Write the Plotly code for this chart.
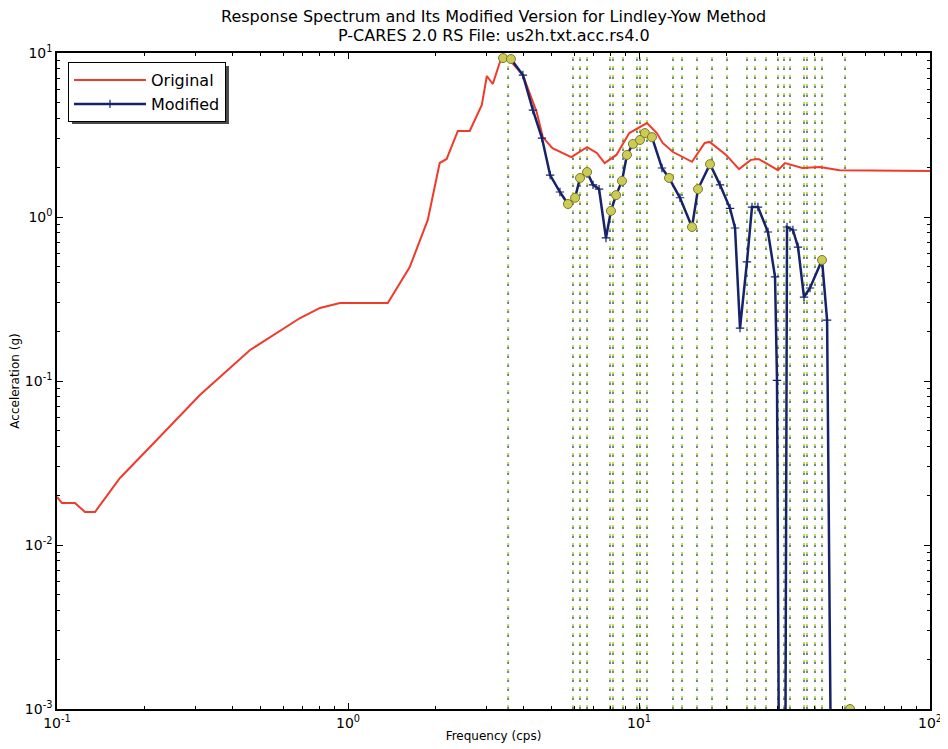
import plotly.graph_objects as go

# ---------------- data ----------------
orig_freq = [0.1, 0.104, 0.1153, 0.1248, 0.1351, 0.1405, 0.1646, 0.2087, 0.3098, 0.4607,
             0.6844, 0.8014, 0.9382, 1.3703, 1.63, 1.88, 2.066, 2.183, 2.385, 2.62,
             2.883, 3.0, 3.144, 3.327, 3.456, 3.594, 3.99, 4.45, 4.67, 5.04,
             5.85, 6.63, 7.16, 7.62, 8.36, 9.26, 10.65, 11.51, 12.06, 13.09,
             15.21, 16.82, 17.49, 19.92, 22.07, 24.22, 25.76, 30.04, 31.75, 36.4,
             41.9, 48.9, 57.0, 100.0]
orig_acc = [0.01963, 0.01803, 0.01803, 0.0159, 0.0159, 0.01754, 0.02563, 0.03961, 0.08218, 0.1545,
            0.2422, 0.2788, 0.299, 0.299, 0.4955, 0.959, 2.134, 2.258, 3.347, 3.347,
            4.82, 7.24, 6.47, 8.81, 9.32, 9.06, 7.34, 4.37, 3.07, 2.63,
            2.32, 2.67, 2.46, 2.13, 2.39, 3.25, 3.74, 3.25, 2.83, 2.49,
            2.17, 2.83, 2.87, 2.39, 1.96, 2.23, 2.26, 1.93, 2.13, 1.99,
            2.02, 1.93, 1.93, 1.91]

mod_freq = [3.41, 3.63, 3.99, 4.32, 4.64, 4.95, 5.35, 5.70, 6.03, 6.27,
            6.63, 6.95, 7.29, 7.70, 8.01, 8.34, 8.74, 9.09, 9.53, 10.08,
            10.48, 11.08, 11.99, 12.68, 13.83, 15.21, 15.95, 17.54, 18.98, 20.55,
            21.38, 22.24, 23.50, 24.45, 25.63, 27.75, 29.34, 29.8, 30.4, 31.75,
            32.26, 33.8, 35.2, 36.9, 38.7, 42.55, 44.3, 46.0]
mod_acc = [9.32, 9.19, 7.34, 4.49, 3.03, 1.80, 1.42, 1.20, 1.31, 1.73,
           1.88, 1.57, 1.48, 0.745, 1.09, 1.36, 1.66, 2.39, 2.79, 2.95,
           3.25, 3.07, 1.99, 1.73, 1.31, 0.869, 1.48, 2.10, 1.57, 1.13,
           0.857, 0.210, 0.532, 1.15, 1.15, 0.810, 0.431, 0.101, 1e-4, 1e-4,
           0.869, 0.833, 0.656, 0.325, 0.369, 0.547, 0.235, 1e-4]

ctrl_freq = [3.41, 3.63, 5.70, 6.03, 6.27, 6.63, 8.01, 8.34, 8.74, 9.09,
             9.53, 10.08, 10.48, 11.08, 12.68, 15.21, 15.95, 17.54, 42.55, 53.1]
ctrl_acc = [9.32, 9.19, 1.20, 1.31, 1.73, 1.88, 1.09, 1.36, 1.66, 2.39,
            2.79, 2.95, 3.25, 3.07, 1.73, 0.869, 1.48, 2.10, 0.547, 0.001]

line_freq = [3.55, 5.93, 6.27, 6.63, 7.95, 8.14, 8.81, 9.84, 10.08, 10.65,
             13.09, 14.05, 15.82, 17.82, 20.06, 23.50, 25.04, 27.32, 30.04, 31.50,
             33.03, 36.90, 37.78, 40.25, 42.55, 51.07]

y_range = [1e-3, 10.0]
x_tickvals = [0.1, 1, 10, 100]
x_ticktext = ["10<sup>-1</sup>", "10<sup>0</sup>", "10<sup>1</sup>", "10<sup>2</sup>"]
y_tickvals = [0.001, 0.01, 0.1, 1, 10]
y_ticktext = ["10<sup>-3</sup>", "10<sup>-2</sup>", "10<sup>-1</sup>", "10<sup>0</sup>", "10<sup>1</sup>"]
title_lines = ["Response Spectrum and Its Modified Version for Lindley-Yow Method",
               "P-CARES 2.0 RS File: us2h.txt.acc.rs4.0"]

# ---------------- figure ----------------
vx, vy = [], []
for f in line_freq:
    vx += [f, f, None]
    vy += [y_range[0], y_range[1], None]

fig = go.Figure()
fig.add_trace(go.Scatter(x=vx, y=vy, mode="lines", showlegend=False, hoverinfo="skip",
                         line=dict(color="#c4dc55", width=2, dash="4px,5px")))
fig.add_trace(go.Scatter(x=vx, y=vy, mode="lines", showlegend=False, hoverinfo="skip",
                         line=dict(color="#3a5fb0", width=1.3, dash="2px,7px")))
fig.add_trace(go.Scatter(x=orig_freq, y=orig_acc, mode="lines", name="Original",
                         line=dict(color="#f03a2a", width=2)))
fig.add_trace(go.Scatter(x=mod_freq, y=mod_acc, mode="lines+markers", name="Modified",
                         line=dict(color="#15246a", width=2.5),
                         marker=dict(symbol="cross-thin", size=6,
                                     line=dict(color="#15246a", width=1.2))))
fig.add_trace(go.Scatter(x=ctrl_freq, y=ctrl_acc, mode="markers", showlegend=False,
                         marker=dict(symbol="circle", size=9, color="#cccc55",
                                     line=dict(color="#7a7a30", width=1))))

axis_common = dict(type="log", showgrid=False, zeroline=False, showline=True,
                   linecolor="black", linewidth=1.5, mirror="ticks", ticks="inside",
                   ticklen=6, tickcolor="black", automargin=False,
                   tickfont=dict(family="DejaVu Sans", size=14, color="black"))

minor_x = [m * 10 ** e for e in (-1, 0, 1) for m in range(2, 10)]
minor_y = [m * 10 ** e for e in (-3, -2, -1, 0) for m in range(2, 10)]

annotations = []
for i, t in enumerate(title_lines):
    annotations.append(dict(text=t, xref="paper", yref="paper", x=0.5, xanchor="center",
                            y=1 + (36 - 18 * i) / 656.0, yanchor="middle", showarrow=False,
                            font=dict(family="DejaVu Sans", size=16, color="black")))

# legend drop shadow
shapes = [dict(type="rect", xref="paper", yref="paper", layer="above",
               x0=0.0172, x1=0.197, y0=0.8918, y1=0.980,
               fillcolor="#4a4a4a", line=dict(width=0))]

# page body has an 8px default margin, so the figure is 8px smaller and offset
fig.update_layout(
    width=940, height=741,
    margin=dict(l=49, r=18, t=45, b=40, autoexpand=False),
    paper_bgcolor="white", plot_bgcolor="white",
    annotations=annotations,
    shapes=shapes,
    xaxis=dict(axis_common, range=[-1, 2], tickvals=x_tickvals, ticktext=x_ticktext,
               title=dict(text="Frequency (cps)", standoff=2,
                          font=dict(family="DejaVu Sans", size=12, color="black")),
               minor=dict(ticks="inside", ticklen=3, tickcolor="black", tickvals=minor_x)),
    yaxis=dict(axis_common, range=[-3, 1], tickvals=y_tickvals, ticktext=y_ticktext,
               title=dict(text="Acceleration (g)", standoff=4,
                          font=dict(family="DejaVu Sans", size=12, color="black")),
               minor=dict(ticks="inside", ticklen=3, tickcolor="black", tickvals=minor_y)),
    legend=dict(x=0.0126, y=0.986, xanchor="left", yanchor="top",
                bgcolor="white", bordercolor="black", borderwidth=1,
                font=dict(family="DejaVu Sans", size=16, color="black"),
                itemwidth=72, tracegroupgap=0),
    showlegend=True,
)

fig.write_html("out.html")
